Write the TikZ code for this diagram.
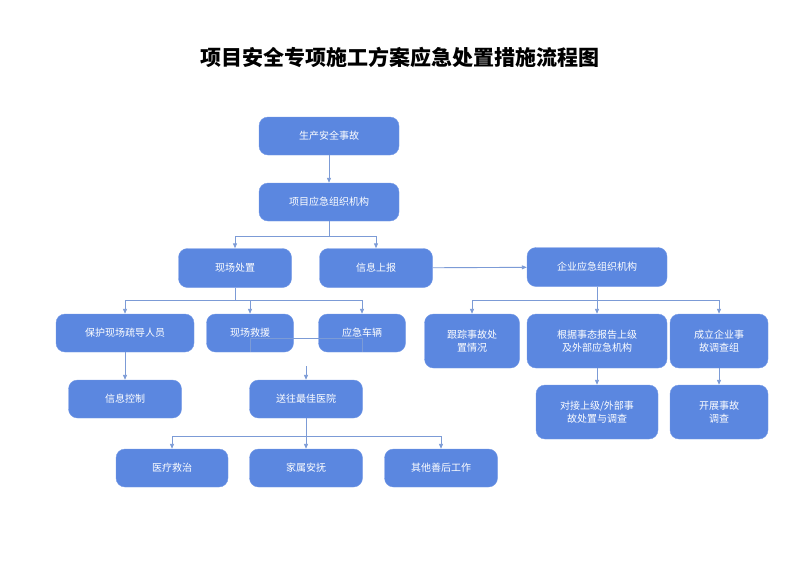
\documentclass[tikz,border=0pt]{standalone}
\usepackage{fontspec}
\setmainfont{Noto Sans CJK SC}
\usetikzlibrary{arrows.meta}
\definecolor{bx}{HTML}{5B87E0}
\definecolor{ln}{HTML}{7C9BD6}
\begin{document}
\begin{tikzpicture}[x=1pt,y=-1pt,
 bx/.style={draw=bx!85!white,fill=bx,rounded corners=9pt,text=white,font=\fontsize{10}{13}\selectfont,align=center,inner sep=0pt},
 ar/.style={draw=ln,line width=0.9pt,-{Triangle[length=5pt,width=4pt]}},
 ln/.style={draw=ln,line width=0.9pt}]
\useasboundingbox (0,0) rectangle (800,566);
\node[font=\fontsize{21}{24}\selectfont\bfseries] (title) at (400,57) {项目安全专项施工方案应急处置措施流程图};
\newcommand\bxn[6]{\node[bx,minimum width=#4,minimum height=#5] (#1) at (#2,#3) {#6};}
\bxn{a}{329}{136}{140}{38}{生产安全事故}
\bxn{b}{329}{202}{140}{38}{项目应急组织机构}
\bxn{c}{235}{268}{113}{39}{现场处置}
\bxn{d}{376}{268}{113}{39}{信息上报}
\bxn{e}{597}{267}{140}{39}{企业应急组织机构}
\bxn{f}{125}{333}{138}{38}{保护现场疏导人员}
\bxn{g}{250}{333}{87}{38}{现场救援}
\bxn{h}{362}{333}{87}{38}{应急车辆}
\bxn{i}{472}{341}{95}{54}{跟踪事故处\\置情况}
\bxn{j}{597}{341}{140}{54}{根据事态报告上级\\及外部应急机构}
\bxn{k}{719}{341}{98}{54}{成立企业事\\故调查组}
\bxn{l}{125}{399}{113}{38}{信息控制}
\bxn{m}{306}{399}{113}{38}{送往最佳医院}
\bxn{n}{597}{412}{122}{54}{对接上级/外部事\\故处置与调查}
\bxn{o}{719}{412}{98}{54}{开展事故\\调查}
\bxn{p}{172}{468}{112}{38}{医疗救治}
\bxn{q}{306}{468}{113}{38}{家属安抚}
\bxn{r}{441}{468}{113}{38}{其他善后工作}
\draw[ar] (a) -- (b);
\draw[ln] (b.south) -- ++(0,15) coordinate (b1);
\draw[ar] (b1) -| (c.north);
\draw[ar] (b1) -| (d.north);
\draw[ar] (d) -- (e);
\draw[ln] (c.south) -- ++(0,13) coordinate (c1);
\draw[ar] (c1) -| (f.north);
\draw[ar] (c1) -| (g.north);
\draw[ar] (c1) -| (h.north);
\draw[ar] (f) -- (l);
\draw[ln] (g.south) |- ([yshift=14]h.south) -- (h.south);
\draw[ar] (m.north |- 0,366) -- (m.north);
\draw[ln] (m.south) -- ++(0,18) coordinate (m1);
\draw[ar] (m1) -| (p.north);
\draw[ar] (m1) -- (q.north);
\draw[ar] (m1) -| (r.north);
\draw[ln] (e.south) -- ++(0,13.5) coordinate (e1);
\draw[ar] (e1) -| (i.north);
\draw[ar] (e1) -- (j.north);
\draw[ar] (e1) -| (k.north);
\draw[ar] (j) -- (n);
\draw[ar] (k) -- (o);
\end{tikzpicture}
\end{document}
